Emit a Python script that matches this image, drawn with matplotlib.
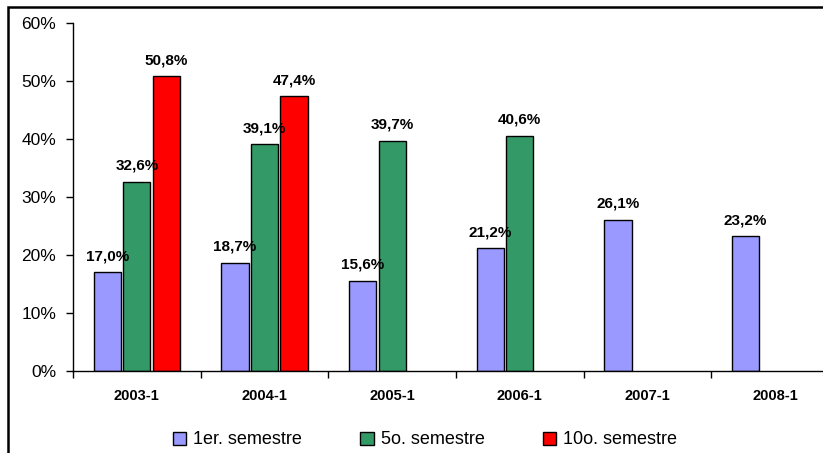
#! /usr/bin/env python3
# -*- coding: utf-8 -*-

import numpy as np
import matplotlib
matplotlib.use("Agg")
import matplotlib.pyplot as plt
from matplotlib.patches import Rectangle

## Data

categories = ["2003-1", "2004-1", "2005-1", "2006-1", "2007-1", "2008-1"]
series_names = ["1er. semestre", "5o. semestre", "10o. semestre"]
primer = [17.0, 18.7, 15.6, 21.2, 26.1, 23.2]
quinto = [32.6, 39.1, 39.7, 40.6, np.nan, np.nan]
decimo = [50.8, 47.4, np.nan, np.nan, np.nan, np.nan]
colors = ["#9999FF", "#339966", "#FF0000"]
y_ticks = [0, 10, 20, 30, 40, 50, 60]

## Plot

plt.rcParams['font.family'] = ['Liberation Sans', 'DejaVu Sans']

fig = plt.figure(figsize=(8.23, 4.53), dpi=100)
W, H = 823.0, 453.0

# frame round the chart (right and bottom cut off)
fig.patches.append(Rectangle((8 / W, -0.1), 1.2, 1.1 - 7 / H,
                             transform=fig.transFigure, fill=False,
                             edgecolor="black", linewidth=1.8))

ax = fig.add_axes([73 / W, 82 / H, 766 / W, 348 / H])
x = np.arange(len(categories))
width = 0.212
step = 0.231

for i, (vals, name, col) in enumerate(zip([primer, quinto, decimo], series_names, colors)):
    pos = x + (i - 1) * step
    ax.bar(pos, vals, width, color=col, edgecolor="black",
           linewidth=1.0, label=name)
    for p, v in zip(pos, vals):
        if np.isnan(v):
            continue
        ax.annotate(("%.1f%%" % v).replace(".", ","), (p, v),
                    xytext=(0, 6.5), textcoords="offset points",
                    ha="center", va="bottom", fontsize=11,
                    fontweight="bold")

ax.set_xlim(-0.5, len(categories) - 0.5)
ax.set_ylim(0, 60)
ax.set_yticks(y_ticks)
ax.set_yticklabels(["%d%%" % t for t in y_ticks], fontsize=12.5)
ax.set_xticks(x)
ax.set_xticklabels(categories, fontsize=10.5, fontweight="bold")
ax.set_xticks(np.arange(len(categories) + 1) - 0.5, minor=True)
ax.tick_params(axis="x", which="major", length=0, pad=13)
ax.tick_params(axis="x", which="minor", length=5, width=1, direction="out")
ax.tick_params(axis="y", length=5, width=1, pad=7)

for s in ["top", "right"]:
    ax.spines[s].set_visible(False)
for s in ["left", "bottom"]:
    ax.spines[s].set_linewidth(1)

fig.legend(loc="center", bbox_to_anchor=(425 / W, 1 - 440 / H), ncol=3,
           frameon=False, fontsize=13, handlelength=0.75, handleheight=0.75,
           handletextpad=0.4, columnspacing=3.2)

fig.savefig("out.png", dpi=100)
